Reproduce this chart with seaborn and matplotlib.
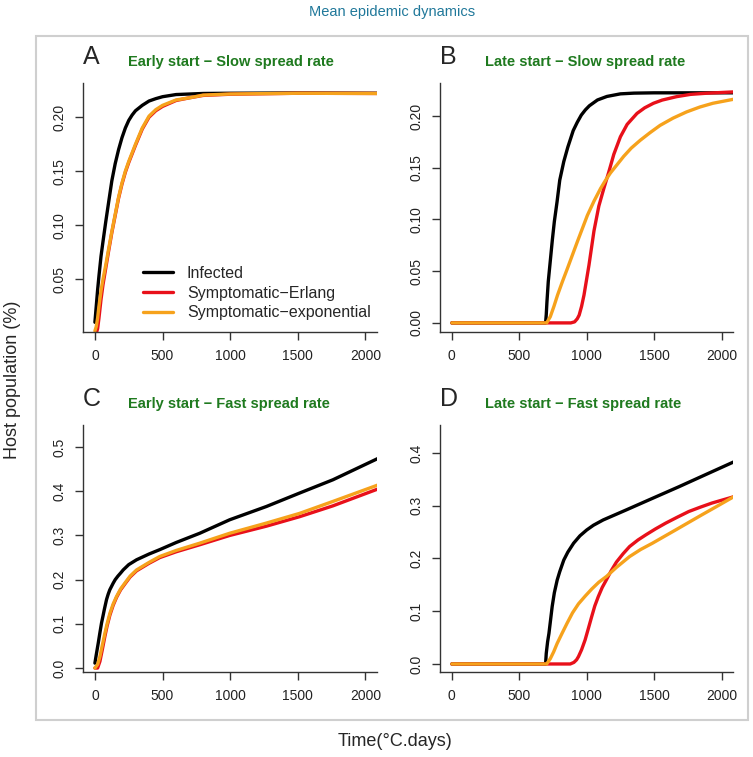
import matplotlib
matplotlib.use("Agg")
import matplotlib.pyplot as plt
from matplotlib.patches import Rectangle
from matplotlib.lines import Line2D
import seaborn as sns

# ---- data (time in degree-days, share of host population) ----
# A: early start, slow spread
a_t = [0, 10, 20, 30, 45, 60, 80, 100, 125, 150, 175, 200, 225, 250, 275, 300, 350, 400, 450, 500, 600, 700, 800,
       1000, 1500, 2090]
a_inf = [0.010, 0.025, 0.040, 0.053, 0.071, 0.085, 0.103, 0.120, 0.141, 0.157, 0.170, 0.181, 0.190, 0.197, 0.202,
         0.206, 0.211, 0.215, 0.2172, 0.219, 0.221, 0.2215, 0.222, 0.2222, 0.2225, 0.2222]
a_erl = [0.0, 0.0, 0.004, 0.014, 0.031, 0.045, 0.060, 0.075, 0.093, 0.109, 0.125, 0.138, 0.149, 0.158, 0.166,
         0.174, 0.189, 0.200, 0.206, 0.210, 0.2155, 0.218, 0.2202, 0.2213, 0.2222, 0.222]
a_exp = [0.002, 0.006, 0.014, 0.025, 0.039, 0.050, 0.063, 0.077, 0.094, 0.110, 0.126, 0.139, 0.150, 0.159, 0.167,
         0.175, 0.190, 0.201, 0.207, 0.211, 0.216, 0.218, 0.2205, 0.2215, 0.2222, 0.222]

# B: late start, slow spread
b_t_inf = [0, 695, 700, 705, 715, 730, 745, 760, 780, 800, 830, 860, 900, 930, 960, 990, 1020, 1080, 1150, 1250,
           1350, 1500, 2090]
b_inf = [0, 0, 0.008, 0.020, 0.040, 0.060, 0.080, 0.098, 0.117, 0.138, 0.156, 0.170, 0.186, 0.194, 0.201, 0.206,
         0.210, 0.2156, 0.219, 0.2215, 0.2222, 0.2225, 0.2225]
b_t_erl = [0, 882, 910, 930, 944, 962, 980, 1017, 1054, 1090, 1127, 1164, 1201, 1250, 1300, 1373, 1430, 1495,
           1560, 1667, 1770, 1888, 2090]
b_erl = [0, 0, 0.001, 0.004, 0.0075, 0.016, 0.027, 0.056, 0.089, 0.113, 0.130, 0.146, 0.163, 0.180, 0.192,
         0.2026, 0.208, 0.2124, 0.2155, 0.2188, 0.221, 0.2221, 0.2234]
b_t_exp = [0, 703, 730, 757, 784, 820, 858, 895, 932, 970, 1005, 1055, 1103, 1140, 1176, 1225, 1274, 1330, 1397,
           1470, 1544, 1640, 1740, 1840, 1936, 2090]
b_exp = [0, 0, 0.006, 0.016, 0.027, 0.040, 0.053, 0.066, 0.079, 0.092, 0.104, 0.118, 0.130, 0.138, 0.145, 0.153,
         0.161, 0.169, 0.1766, 0.184, 0.191, 0.198, 0.204, 0.2088, 0.2124, 0.2163]

# C: early start, fast spread
c_t_inf = [0, 10, 25, 37, 49, 60, 70, 86, 98, 110, 135, 150, 170, 190, 209, 250, 308, 400, 480, 600, 775, 996,
           1267, 1513, 1759, 2090]
c_inf = [0.011, 0.030, 0.057, 0.080, 0.102, 0.118, 0.133, 0.155, 0.167, 0.177, 0.192, 0.200, 0.208, 0.215, 0.222,
         0.234, 0.245, 0.258, 0.268, 0.284, 0.305, 0.3355, 0.3655, 0.396, 0.426, 0.474]
c_t_sym = [0, 20, 37, 55, 74, 90, 111, 135, 160, 190, 221, 260, 308, 400, 480, 600, 775, 996, 1267, 1513, 1759, 2090]
c_erl = [0.0, 0.0, 0.015, 0.042, 0.072, 0.095, 0.120, 0.142, 0.160, 0.177, 0.190, 0.206, 0.220, 0.237, 0.250,
         0.263, 0.279, 0.300, 0.321, 0.3425, 0.367, 0.405]
c_exp = [0.0, 0.008, 0.026, 0.052, 0.079, 0.100, 0.124, 0.145, 0.162, 0.179, 0.192, 0.208, 0.222, 0.239, 0.2525,
         0.266, 0.2826, 0.305, 0.328, 0.350, 0.377, 0.414]

# D: late start, fast spread
d_t_inf = [0, 695, 700, 710, 720, 744, 760, 781, 800, 830, 860, 903, 950, 1000, 1050, 1122, 1293, 1488, 1684, 1879,
           2090]
d_inf = [0, 0, 0.020, 0.042, 0.058, 0.109, 0.135, 0.159, 0.175, 0.197, 0.212, 0.229, 0.243, 0.254, 0.263, 0.273,
         0.292, 0.314, 0.336, 0.3586, 0.383]
d_t_erl = [0, 878, 905, 925, 939, 962, 988, 1012, 1037, 1060, 1086, 1115, 1147, 1180, 1220, 1270, 1318, 1380, 1440,
           1510, 1586, 1670, 1757, 1840, 1928, 2090]
d_erl = [0, 0, 0.003, 0.008, 0.014, 0.027, 0.0455, 0.067, 0.0898, 0.110, 0.1277, 0.145, 0.160, 0.176, 0.193,
         0.209, 0.2226, 0.235, 0.245, 0.256, 0.267, 0.278, 0.289, 0.297, 0.305, 0.317]
d_t_exp = [0, 703, 730, 755, 781, 817, 854, 895, 939, 990, 1037, 1090, 1147, 1220, 1318, 1400, 1488, 1570, 1659,
           1754, 1854, 1960, 2090]
d_exp = [0, 0, 0.010, 0.023, 0.039, 0.058, 0.077, 0.097, 0.114, 0.129, 0.142, 0.155, 0.166, 0.183, 0.2036,
         0.217, 0.229, 0.241, 0.254, 0.268, 0.2827, 0.298, 0.317]

series_names = ["Infected", "Symptomatic\u2212Erlang", "Symptomatic\u2212exponential"]
series_colors = ["black", "#e8101a", "#f6a21c"]
x_ticks = [0, 500, 1000, 1500, 2000]

sns.set_theme(style="ticks")
plt.rcParams['font.family'] = ['Liberation Sans', 'DejaVu Sans']

W, H = 753, 757
fig = plt.figure(figsize=(W / 100, H / 100), dpi=100)

# light grey frame round the four panels
fig.patches.append(Rectangle((36 / W, 1 - 720 / H), 712 / W, 684 / H, transform=fig.transFigure,
                             fill=False, edgecolor="#cfcfcf", lw=1.5))


def add_panel(left, top, right, bottom):
    return fig.add_axes([left / W, 1 - bottom / H, (right - left) / W, (bottom - top) / H])


panels = [
    ((83, 83, 377, 332), "A", "Early start \u2212 Slow spread rate", (0.001, 0.2317),
     [0.05, 0.10, 0.15, 0.20], "{:.2f}",
     [(a_t, a_inf), (a_t, a_erl), (a_t, a_exp)]),
    ((440, 83, 733, 332), "B", "Late start \u2212 Slow spread rate", (-0.0088, 0.232),
     [0.0, 0.05, 0.10, 0.15, 0.20], "{:.2f}",
     [(b_t_inf, b_inf), (b_t_erl, b_erl), (b_t_exp, b_exp)]),
    ((83, 425, 377, 672), "C", "Early start \u2212 Fast spread rate", (-0.009, 0.55),
     [0.0, 0.1, 0.2, 0.3, 0.4, 0.5], "{:.1f}",
     [(c_t_inf, c_inf), (c_t_sym, c_erl), (c_t_sym, c_exp)]),
    ((440, 425, 733, 672), "D", "Late start \u2212 Fast spread rate", (-0.0152, 0.453),
     [0.0, 0.1, 0.2, 0.3, 0.4], "{:.1f}",
     [(d_t_inf, d_inf), (d_t_erl, d_erl), (d_t_exp, d_exp)]),
]

axes = []
for box, letter, subtitle, ylim, yticks, fmt, lines in panels:
    ax = add_panel(*box)
    for (t, v), col in zip(lines, series_colors):
        sns.lineplot(x=t, y=v, ax=ax, color=col, lw=2.4, estimator=None, sort=False)
    ax.set_xlim(-88, 2085)
    ax.set_ylim(*ylim)
    ax.set_xticks(x_ticks)
    ax.set_yticks(yticks)
    ax.set_yticklabels([fmt.format(y) for y in yticks])
    ax.set_xlabel("")
    ax.set_ylabel("")
    sns.despine(ax=ax)
    for sp in ["left", "bottom"]:
        ax.spines[sp].set_color("#333333")
        ax.spines[sp].set_linewidth(1.0)
    ax.tick_params(direction="out", length=5.5, width=1, color="#333333",
                   labelcolor="#222222", labelsize=10, pad=6.5)
    ax.tick_params(axis="y", labelrotation=90)
    plt.setp(ax.get_yticklabels(), va="center")

    # panel letter and green subtitle above the plot
    lx, ty = box[0], box[1]
    fig.text(lx / W, 1 - (ty - 26) / H, letter, fontsize=18, ha="left", va="center")
    fig.text((lx + 45) / W, 1 - (ty - 21) / H, subtitle, fontsize=10.5, fontweight="bold",
             color="#1f7a1f", ha="left", va="center")
    axes.append(ax)

handles = [Line2D([], [], color=c, lw=2.4) for c in series_colors]
axes[0].legend(handles, series_names, loc="upper left",
               bbox_to_anchor=(143 / W, 1 - 266 / H), bbox_transform=fig.transFigure,
               frameon=False, fontsize=11.5, handlelength=1.9, handletextpad=0.85,
               labelspacing=0.29, borderpad=0, borderaxespad=0)

fig.text(392 / W, 1 - 12 / H, "Mean epidemic dynamics", fontsize=10.5, color="#20789a",
         ha="center", va="center")
fig.text(395 / W, 1 - 741 / H, "Time(\u00b0C.days)", fontsize=13, ha="center", va="center")
fig.text(13 / W, 1 - 380 / H, "Host population (%)", fontsize=13, rotation=90,
         ha="center", va="center")

fig.savefig("out.png", dpi=100)
